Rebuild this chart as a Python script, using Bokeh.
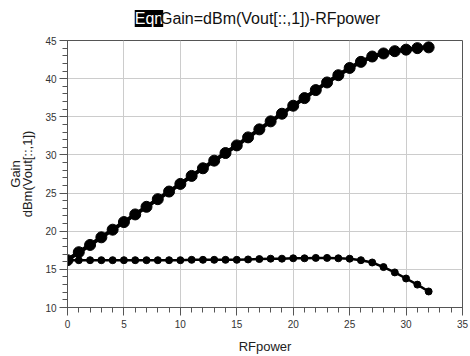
from bokeh.plotting import figure
from bokeh.layouts import column
from bokeh.models import Range1d, SingleIntervalTicker, ColumnDataSource
from bokeh.core.properties import value
from bokeh.embed import file_html
from bokeh.resources import INLINE

rf_power = list(range(0, 33))
pout = [16.2, 17.25, 18.2, 19.2, 20.2, 21.2, 22.2, 23.2, 24.2, 25.2, 26.2,
        27.25, 28.25, 29.25, 30.25, 31.25, 32.3, 33.35, 34.4, 35.4, 36.45,
        37.45, 38.5, 39.5, 40.45, 41.4, 42.2, 42.9, 43.3, 43.6, 43.8, 44.0, 44.1]
gain = [16.2, 16.2, 16.2, 16.2, 16.2, 16.2, 16.2, 16.2, 16.2, 16.2, 16.2,
        16.25, 16.25, 16.25, 16.25, 16.25, 16.3, 16.35, 16.4, 16.4, 16.45,
        16.45, 16.5, 16.5, 16.45, 16.4, 16.2, 15.9, 15.3, 14.6, 13.8, 13.0, 12.1]

title_tag = "Eqn"
title_text = "Gain=dBm(Vout[::,1])-RFpower"
x_label = "RFpower"
y_label = "Gain\ndBm(Vout[::,1])"

FONT = "Liberation Sans"
W = 470
TH = 34

# ---- title strip ----
t = figure(width=W, height=TH, output_backend="svg", toolbar_location=None,
           x_range=Range1d(0, W), y_range=Range1d(0, TH),
           min_border=0, min_border_left=0, min_border_right=0,
           min_border_top=0, min_border_bottom=0,
           x_axis_type=None, y_axis_type=None)
t.outline_line_color = None
t.xgrid.visible = False
t.ygrid.visible = False
t.background_fill_color = "white"
t.border_fill_color = "white"
t.text(x=[80], y=[TH - 18], text=[title_tag], text_font=value(FONT),
       text_font_size="16px", text_color="white", text_baseline="middle",
       background_fill_color="black")
t.text(x=[110], y=[TH - 18], text=[title_text], text_font=value(FONT),
       text_font_size="16px", text_color="#111111", text_baseline="middle")

# ---- main plot ----
p = figure(width=W, height=356 - TH, output_backend="svg", toolbar_location=None,
           x_range=Range1d(0, 35), y_range=Range1d(10, 45),
           min_border_left=67, min_border_right=8, min_border_top=6, min_border_bottom=49)
p.background_fill_color = "white"
p.border_fill_color = "white"
p.outline_line_color = "#555555"
p.outline_line_width = 1

for ax in (p.xaxis[0], p.yaxis[0]):
    ax.axis_line_color = "#555555"
    ax.major_tick_line_color = "#555555"
    ax.minor_tick_line_color = "#555555"
    ax.major_tick_in = 0
    ax.major_tick_out = 8
    ax.minor_tick_in = 0
    ax.minor_tick_out = 5
    ax.major_label_text_font = FONT
    ax.major_label_text_font_size = "10px"
    ax.major_label_text_color = "#333333"
    ax.axis_label_text_font = FONT
    ax.axis_label_text_font_size = "13px"
    ax.axis_label_text_font_style = "normal"
    ax.axis_label_text_color = "#222222"
    ax.axis_label_text_line_height = 0.85

p.xaxis.ticker = SingleIntervalTicker(interval=5, num_minor_ticks=5)
p.yaxis.ticker = SingleIntervalTicker(interval=5, num_minor_ticks=5)
p.xaxis.axis_label = x_label
p.yaxis.axis_label = y_label
p.xaxis.major_label_standoff = 4
p.yaxis.major_label_standoff = 3
p.xaxis.axis_label_standoff = 8
p.yaxis.axis_label_standoff = 7

p.xgrid.grid_line_color = "#cccccc"
p.ygrid.grid_line_color = "#cccccc"

src = ColumnDataSource(dict(x=rf_power, pout=pout, gain=gain))
p.line("x", "pout", source=src, line_color="black", line_width=4)
p.scatter("x", "pout", source=src, marker="circle", size=11, fill_color="black", line_color="black")
p.line("x", "gain", source=src, line_color="black", line_width=2.5)
p.scatter("x", "gain", source=src, marker="circle", size=7, fill_color="black", line_color="black")

layout = column(t, p, spacing=0)
open("out.html", "w").write(file_html(layout, INLINE))
